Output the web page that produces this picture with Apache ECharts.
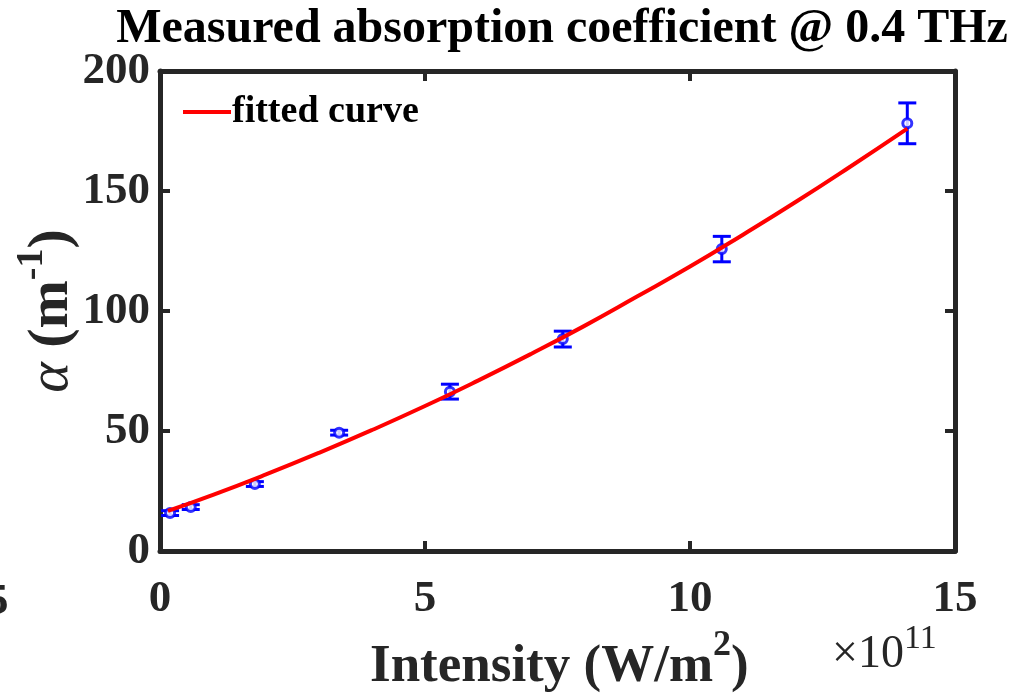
<!DOCTYPE html>
<html>
<head>
<meta charset="utf-8">
<script src="https://cdn.jsdelivr.net/npm/echarts@6/dist/echarts.min.js"></script>
<style>html,body{margin:0;padding:0;background:#fff;}#c{width:1011px;height:696px;}</style>
</head>
<body>
<div id="c"></div>
<script>
// Measured data (intensity in units of 1e11 W/m^2, alpha in m^-1)
const intensity = [0.19, 0.58, 1.79, 3.38, 5.47, 7.6, 10.6, 14.1];
const alpha = [15.8, 18.3, 27.9, 49.3, 66.4, 88.3, 125.8, 178.2];
const alphaErr = [1.0, 1.0, 1.0, 1.0, 3.1, 3.3, 5.3, 8.5];
// Fitted curve
const fitX = [0.15, 1, 2, 3, 4, 5, 6, 7, 8, 9, 10, 11, 12, 13, 14.1];
const fitY = [16.7, 23.4, 31.9, 40.9, 50.4, 60.4, 71.0, 82.1, 93.7, 106.0, 118.5, 131.8, 145.5, 159.8, 176.0];
const xTicks = [0, 5, 10, 15];
const yTicks = [0, 50, 100, 150, 200];

const FONT = '"Liberation Serif", "Times New Roman", serif';
const AXC = '#262626';
const chart = echarts.init(document.getElementById('c'));

const errData = intensity.map((x, i) => [x, alpha[i] - alphaErr[i], alpha[i] + alphaErr[i]]);
const ptData = intensity.map((x, i) => [x, alpha[i]]);
const fitData = fitX.map((x, i) => [x, fitY[i]]);

const axisCommon = {
  min: 0,
  axisLine: {show: true, onZero: false, lineStyle: {color: AXC, width: 5}},
  axisTick: {show: true, inside: true, length: 10, lineStyle: {color: AXC, width: 4}},
  splitLine: {show: false}
};

chart.setOption({
  animation: false,
  backgroundColor: '#fff',
  title: {
    text: 'Measured absorption coefficient @ 0.4 THz',
    left: 557, top: 1, textAlign: 'center',
    textStyle: {fontFamily: FONT, fontWeight: 'bold', fontSize: 48, color: '#000'}
  },
  legend: {
    show: true, left: 178, top: 88, itemWidth: 48, itemHeight: 4, itemGap: 4,
    icon: 'rect',
    data: [{name: 'fitted curve'}],
    textStyle: {fontFamily: FONT, fontWeight: 'bold', fontSize: 38, color: '#000', padding: [0, 0, 0, -4]}
  },
  grid: {left: 160, right: 56, top: 71, bottom: 145},
  xAxis: [
    Object.assign({}, axisCommon, {
      type: 'value', max: 15, interval: 5, position: 'bottom', data: xTicks,
      axisLabel: {fontFamily: FONT, fontWeight: 'bold', fontSize: 45, color: AXC, margin: 26}
    }),
    Object.assign({}, axisCommon, {
      type: 'value', max: 15, interval: 5, position: 'top',
      axisLabel: {show: false}
    })
  ],
  yAxis: [
    Object.assign({}, axisCommon, {
      type: 'value', max: 200, interval: 50, position: 'left', data: yTicks,
      axisLabel: {fontFamily: FONT, fontWeight: 'bold', fontSize: 45, color: AXC, margin: 10}
    }),
    Object.assign({}, axisCommon, {
      type: 'value', max: 200, interval: 50, position: 'right',
      axisLabel: {show: false}
    })
  ],
  graphic: [
    {
      type: 'text', x: 370, y: 628, silent: true,
      style: {
        rich: {
          b: {fontFamily: FONT, fontWeight: 'bold', fontSize: 53, fill: AXC, verticalAlign: 'bottom', lineHeight: 66},
          s: {fontFamily: FONT, fontWeight: 'bold', fontSize: 36, fill: AXC, verticalAlign: 'top', lineHeight: 66}
        },
        text: '{b|Intensity (W/m}{s|2}{b|)}'
      }
    },
    {
      type: 'text', x: 832, y: 622, silent: true,
      style: {
        rich: {
          n: {fontFamily: FONT, fontSize: 46, fill: AXC, verticalAlign: 'bottom', lineHeight: 56},
          s: {fontFamily: FONT, fontSize: 34, fill: AXC, verticalAlign: 'top', lineHeight: 56}
        },
        text: '{n|×10}{s|11}'
      }
    },
    {
      type: 'text', x: 47, y: 311, rotation: Math.PI / 2, silent: true,
      style: {
        align: 'center', verticalAlign: 'middle',
        rich: {
          a: {fontFamily: FONT, fontStyle: 'italic', fontSize: 58, fill: AXC, verticalAlign: 'bottom', lineHeight: 68},
          b: {fontFamily: FONT, fontWeight: 'bold', fontSize: 58, fill: AXC, verticalAlign: 'bottom', lineHeight: 68},
          s: {fontFamily: FONT, fontWeight: 'bold', fontSize: 38, fill: AXC, verticalAlign: 'top', lineHeight: 68}
        },
        text: '{a|α}{b| (m}{s|-1}{b|)}'
      }
    },
    {
      type: 'text', x: -14, y: 580, silent: true,
      style: {text: '5', fontFamily: FONT, fontWeight: 'bold', fontSize: 45, fill: AXC}
    }
  ],
  series: [
    {
      name: 'fitted curve', type: 'line', data: fitData, smooth: true, symbol: 'none',
      xAxisIndex: 0, yAxisIndex: 0,
      lineStyle: {color: '#ff0000', width: 4}, itemStyle: {color: '#ff0000'}, z: 3
    },
    {
      name: 'errbar', type: 'custom', data: errData, xAxisIndex: 0, yAxisIndex: 0, z: 2,
      renderItem: function (params, api) {
        const x = api.value(0);
        const top = api.coord([x, api.value(2)]);
        const bot = api.coord([x, api.value(1)]);
        const w = 9;
        const st = {stroke: '#0000ff', lineWidth: 3};
        return {
          type: 'group',
          children: [
            {type: 'line', shape: {x1: top[0], y1: top[1], x2: bot[0], y2: bot[1]}, style: st},
            {type: 'line', shape: {x1: top[0] - w, y1: top[1], x2: top[0] + w, y2: top[1]}, style: st},
            {type: 'line', shape: {x1: bot[0] - w, y1: bot[1], x2: bot[0] + w, y2: bot[1]}, style: st}
          ]
        };
      }
    },
    {
      name: 'points', type: 'scatter', data: ptData, xAxisIndex: 0, yAxisIndex: 0, z: 2,
      symbol: 'circle', symbolSize: 9,
      itemStyle: {color: '#ffffff', borderColor: '#0000ff', borderWidth: 3}
    }
  ]
});
</script>
</body>
</html>
